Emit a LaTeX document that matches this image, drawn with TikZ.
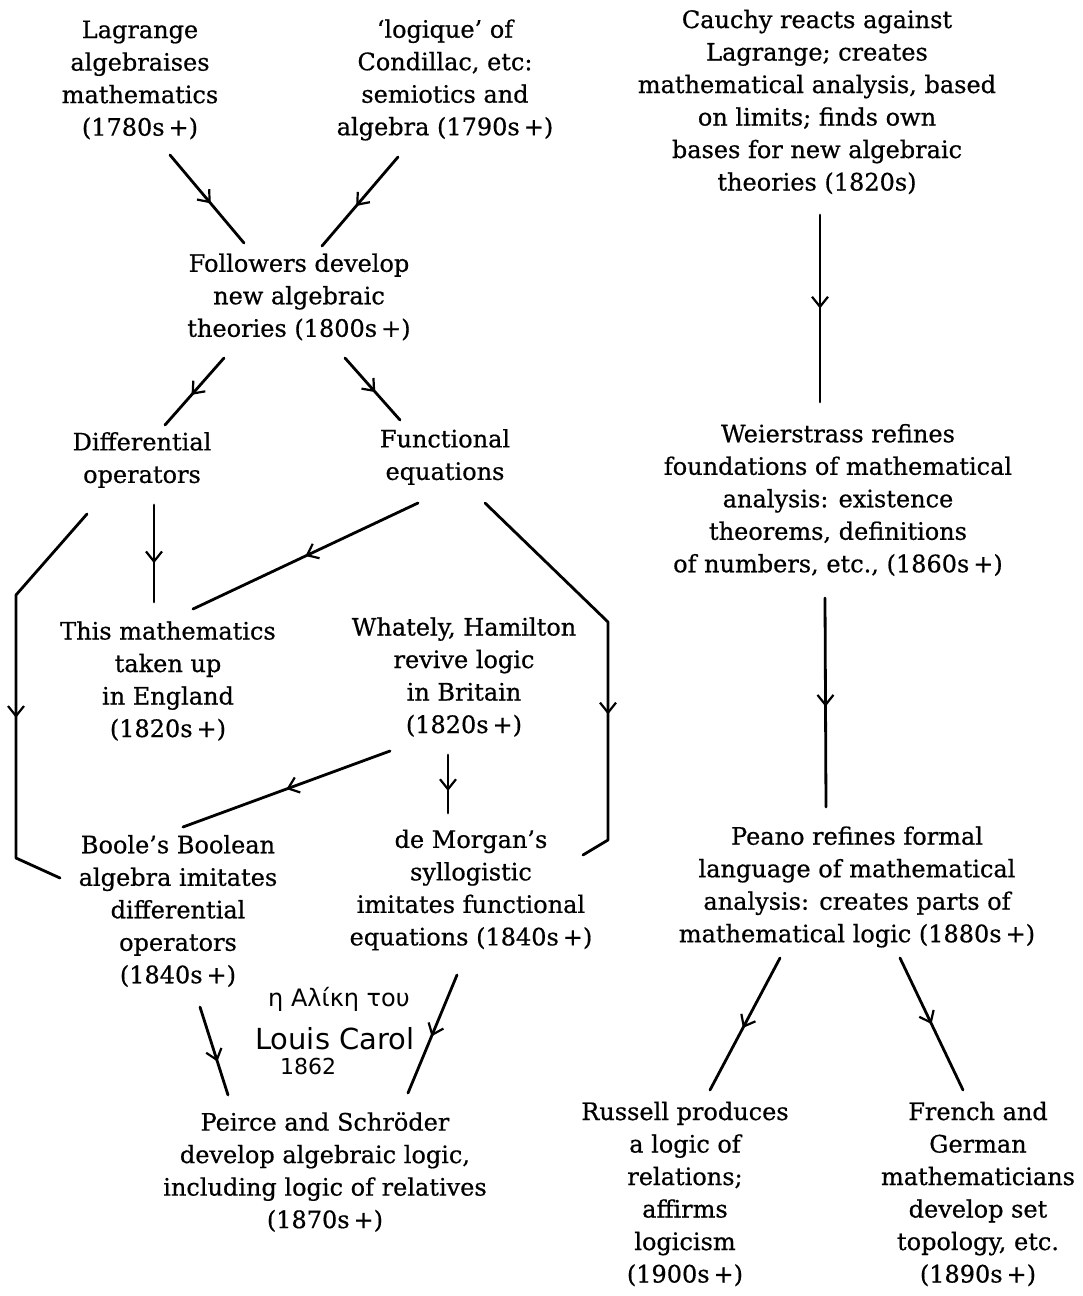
\documentclass[tikz,border=0pt]{standalone}
\usepackage{fontspec}
\setmainfont{DejaVu Serif}[FakeBold=0.6]
\newfontfamily\handfont{DejaVu Sans}
\usetikzlibrary{arrows.meta,decorations.markings}

\tikzset{
  box/.style={align=center, inner sep=0pt, font=\fontsize{24}{32.5}\selectfont},
  hand/.style={anchor=base west, inner sep=0pt},
  flow/.style={line width=2.8pt, line cap=round, line join=round,
    postaction={decorate},
    decoration={markings, mark=at position #1 with
      {\arrow{Straight Barb[length=10pt,width=16pt,line width=2.2pt]}}}},
  flow/.default=0.5,
}

\begin{document}
\begin{tikzpicture}[x=1pt, y=-1pt]
\useasboundingbox (0,0) rectangle (1083,1296);
\fill[white] (0,0) rectangle (1083,1296);

% ---- left part: algebra and logic ----
\node[box] (lagrange) at (140,80) {Lagrange\\algebraises\\mathematics\\(1780s\,+)};
\node[box] (logique) at (445,80) {‘logique’ of\\Condillac, etc:\\semiotics and\\algebra (1790s\,+)};
\node[box] (followers) at (299,297) {Followers develop\\new algebraic\\theories (1800s\,+)};
\node[box] (diff) at (142,460) {Differential\\operators};
\node[box] (func) at (445,457) {Functional\\equations};
\node[box] (thismath) at (168,681) {This mathematics\\taken up\\in England\\(1820s\,+)};
\node[box] (whately) at (464,677) {Whately, Hamilton\\revive logic\\in Britain\\(1820s\,+)};
\node[box] (boole) at (178,911) {Boole’s Boolean\\algebra imitates\\differential\\operators\\(1840s\,+)};
\node[box] (demorgan) at (471,890) {de Morgan’s\\syllogistic\\imitates functional\\equations (1840s\,+)};
\node[box] (peirce) at (325,1172) {Peirce and Schröder\\develop algebraic logic,\\including logic of relatives\\(1870s\,+)};

% handwritten note
\node[hand, font=\handfont\fontsize{24}{24}\selectfont] (note1) at (268,1006) {η Αλίκη του};
\node[hand, font=\handfont\fontsize{29}{29}\selectfont] (note2) at (255,1049) {Louis Carol};
\node[hand, font=\handfont\fontsize{22}{22}\selectfont] (note3) at (280,1074) {1862};

% ---- right part: analysis ----
\node[box] (cauchy) at (817,102) {Cauchy reacts against\\Lagrange; creates\\mathematical analysis, based\\on limits; finds own\\bases for new algebraic\\theories (1820s)};
\node[box] (weier) at (838,500) {Weierstrass refines\\foundations of mathematical\\analysis: existence\\theorems, definitions\\of numbers, etc., (1860s\,+)};
\node[box] (peano) at (857,887) {Peano refines formal\\language of mathematical\\analysis: creates parts of\\mathematical logic (1880s\,+)};
\node[box] (russell) at (685,1194) {Russell produces\\a logic of\\relations;\\affirms\\logicism\\(1900s\,+)};
\node[box] (french) at (978,1194) {French and\\German\\mathematicians\\develop set\\topology, etc.\\(1890s\,+)};

% ---- connectors ----
\draw[flow=0.55] ([shift={(30,75)}]lagrange.center) -- ([shift={(-55,-54)}]followers.center);
\draw[flow=0.55] ([shift={(-47,77)}]logique.center) -- ([shift={(23,-51)}]followers.center);
\draw[flow=0.55] ([shift={(-75,61)}]followers.center) -- ([shift={(23,-35)}]diff.center);
\draw[flow=0.55] ([shift={(46,61)}]followers.center) -- ([shift={(-45,-37)}]func.center);

\draw[flow=0.6] ([shift={(12,45)}]diff.center) -- ([shift={(-14,-79)}]thismath.center);
\draw[flow=0.55] ([shift={(-55,54)}]diff.center) -- (16,595) -- (16,858) -- ([shift={(-118,-33)}]boole.center);

\draw[flow=0.5] ([shift={(-27,46)}]func.center) -- ([shift={(25,-72)}]thismath.center);
\draw[flow=0.63] ([shift={(40,46)}]func.center) -- (608,622) -- (608,840) -- ([shift={(112,-35)}]demorgan.center);

\draw[flow=0.5] ([shift={(-74,74)}]whately.center) -- ([shift={(5,-84)}]boole.center);
\draw[flow=0.62] ([shift={(-16,78)}]whately.center) -- ([shift={(-23,-77)}]demorgan.center);

\draw[flow=0.62] ([shift={(22,96)}]boole.center) -- ([shift={(-97,-77)}]peirce.center);
\draw[flow=0.52] ([shift={(-14,85)}]demorgan.center) -- ([shift={(83,-79)}]peirce.center);

\draw[flow=0.5] ([shift={(3,113)}]cauchy.center) -- ([shift={(-18,-98)}]weier.center);
\draw[flow=0.52] ([shift={(-13,98)}]weier.center) -- ([shift={(-31,-80)}]peano.center);
\draw[flow=0.53] ([shift={(-77,71)}]peano.center) -- ([shift={(25,-104)}]russell.center);
\draw[flow=0.5] ([shift={(43,71)}]peano.center) -- ([shift={(-15,-104)}]french.center);
\end{tikzpicture}
\end{document}
